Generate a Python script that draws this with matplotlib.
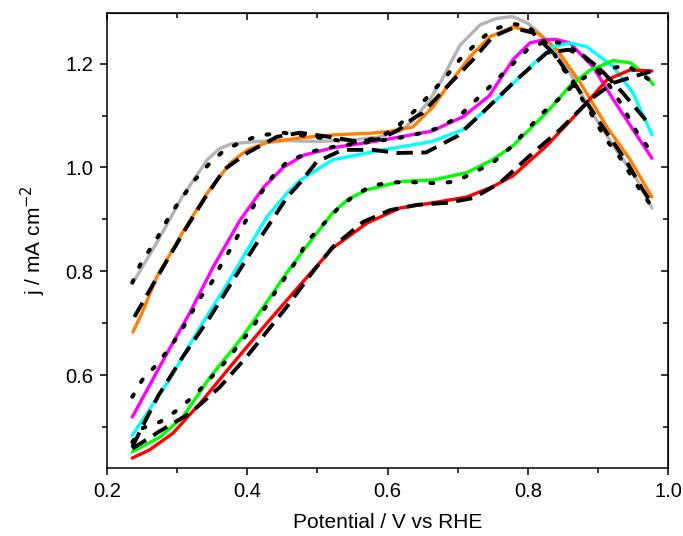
import matplotlib
matplotlib.use("Agg")
import matplotlib.pyplot as plt
from matplotlib.ticker import MultipleLocator

plt.rcParams['font.family'] = ['Liberation Sans', 'DejaVu Sans']

# measured curves (potential / V, current density / mA cm-2)
gray_x = [0.237, 0.271, 0.307, 0.343, 0.36, 0.378, 0.414, 0.45, 0.5, 0.55, 0.589, 0.618, 0.636,
          0.66, 0.675, 0.703, 0.732, 0.755, 0.778, 0.80, 0.827, 0.86, 0.889, 0.922, 0.956, 0.977]
gray_y = [0.778, 0.855, 0.943, 1.015, 1.036, 1.046, 1.05, 1.052, 1.05, 1.053, 1.059, 1.07, 1.09,
          1.13, 1.163, 1.235, 1.275, 1.287, 1.291, 1.278, 1.246, 1.183, 1.111, 1.042, 0.976, 0.922]

orange_x = [0.237, 0.25, 0.271, 0.31, 0.343, 0.376, 0.4, 0.428, 0.475, 0.525, 0.575, 0.6, 0.636,
            0.665, 0.685, 0.718, 0.746, 0.779, 0.813, 0.842, 0.875, 0.913, 0.946, 0.977]
orange_y = [0.683, 0.72, 0.789, 0.88, 0.951, 1.009, 1.034, 1.048, 1.057, 1.063, 1.066, 1.069, 1.078,
            1.117, 1.156, 1.214, 1.252, 1.271, 1.26, 1.227, 1.163, 1.078, 1.015, 0.943]

magenta_x = [0.236, 0.286, 0.318, 0.352, 0.39, 0.424, 0.452, 0.481, 0.522, 0.594, 0.663, 0.708,
             0.745, 0.779, 0.803, 0.822, 0.84, 0.86, 0.893, 0.922, 0.95, 0.977]
magenta_y = [0.519, 0.643, 0.72, 0.81, 0.899, 0.963, 1.001, 1.024, 1.038, 1.053, 1.07, 1.098,
             1.138, 1.208, 1.24, 1.246, 1.247, 1.24, 1.194, 1.131, 1.073, 1.018]

cyan_x = [0.236, 0.286, 0.333, 0.371, 0.40, 0.428, 0.457, 0.475, 0.522, 0.594, 0.663, 0.708,
          0.756, 0.803, 0.836, 0.86, 0.884, 0.922, 0.95, 0.977]
cyan_y = [0.484, 0.585, 0.693, 0.775, 0.841, 0.905, 0.951, 0.975, 1.015, 1.034, 1.05, 1.073,
          1.131, 1.194, 1.233, 1.24, 1.233, 1.194, 1.144, 1.063]

green_x = [0.236, 0.276, 0.308, 0.347, 0.39, 0.41, 0.43, 0.45, 0.47, 0.5, 0.522, 0.545, 0.571,
           0.618, 0.665, 0.713, 0.75, 0.779, 0.827, 0.86, 0.889, 0.922, 0.946, 0.964, 0.979]
green_y = [0.452, 0.481, 0.519, 0.596, 0.668, 0.706, 0.745, 0.785, 0.822, 0.875, 0.913, 0.94, 0.957,
           0.973, 0.976, 0.99, 1.015, 1.042, 1.106, 1.157, 1.188, 1.206, 1.202, 1.183, 1.16]

red_x = [0.236, 0.261, 0.294, 0.333, 0.38, 0.428, 0.475, 0.522, 0.571, 0.618, 0.665, 0.713,
         0.75, 0.779, 0.827, 0.875, 0.913, 0.946, 0.977]
red_y = [0.44, 0.456, 0.488, 0.546, 0.623, 0.70, 0.773, 0.845, 0.893, 0.922, 0.932, 0.943,
         0.963, 0.984, 1.042, 1.111, 1.169, 1.188, 1.186]

# fitted curves (black)
fit_gray_x = [0.236, 0.247, 0.276, 0.29, 0.307, 0.325, 0.347, 0.368, 0.395, 0.418, 0.451, 0.5,
              0.551, 0.589, 0.614, 0.64, 0.682, 0.703, 0.732, 0.75, 0.778, 0.80, 0.83, 0.86,
              0.89, 0.91, 0.932, 0.959, 0.975]
fit_gray_y = [0.778, 0.812, 0.874, 0.909, 0.942, 0.976, 1.009, 1.034, 1.051, 1.062, 1.067, 1.058,
              1.048, 1.058, 1.079, 1.111, 1.173, 1.208, 1.246, 1.266, 1.277, 1.272, 1.235, 1.17,
              1.105, 1.057, 1.018, 0.959, 0.928]

fit_orange_x = [0.239, 0.261, 0.286, 0.314, 0.338, 0.367, 0.40, 0.442, 0.475, 0.522, 0.558, 0.59,
                0.615, 0.636, 0.65, 0.685, 0.722, 0.75, 0.779, 0.807, 0.84, 0.87, 0.903, 0.942,
                0.964, 0.975]
fit_orange_y = [0.712, 0.764, 0.822, 0.886, 0.938, 0.996, 1.028, 1.059, 1.067, 1.058, 1.05, 1.055,
                1.072, 1.094, 1.105, 1.156, 1.208, 1.252, 1.269, 1.26, 1.215, 1.155, 1.086, 1.009,
                0.957, 0.935]

fit_magenta_x = [0.236, 0.25, 0.268, 0.287, 0.304, 0.333, 0.35, 0.364, 0.378, 0.404, 0.418, 0.438,
                 0.457, 0.49, 0.53, 0.58, 0.63, 0.67, 0.70, 0.746, 0.77, 0.80, 0.825, 0.85, 0.88,
                 0.913, 0.932, 0.956, 0.974]
fit_magenta_y = [0.558, 0.59, 0.616, 0.648, 0.681, 0.749, 0.78, 0.816, 0.847, 0.913, 0.948, 0.986,
                 1.011, 1.03, 1.042, 1.05, 1.06, 1.075, 1.096, 1.156, 1.188, 1.228, 1.243, 1.24,
                 1.215, 1.165, 1.125, 1.067, 1.034]

fit_cyan_x = [0.236, 0.25, 0.273, 0.308, 0.347, 0.38, 0.41, 0.457, 0.475, 0.499, 0.536, 0.579,
              0.614, 0.655, 0.70, 0.735, 0.779, 0.827, 0.858, 0.88, 0.903, 0.936, 0.966, 0.975]
fit_cyan_y = [0.461, 0.50, 0.56, 0.635, 0.712, 0.783, 0.847, 0.943, 0.97, 1.011, 1.034, 1.034,
              1.028, 1.029, 1.061, 1.105, 1.163, 1.221, 1.227, 1.215, 1.19, 1.143, 1.095, 1.08]

fit_green_x = [0.236, 0.251, 0.276, 0.301, 0.328, 0.371, 0.408, 0.439, 0.471, 0.485, 0.508, 0.53,
               0.554, 0.578, 0.604, 0.628, 0.651, 0.675, 0.699, 0.722, 0.75, 0.775, 0.822, 0.846,
               0.868, 0.899, 0.942, 0.984]
fit_green_y = [0.471, 0.498, 0.51, 0.533, 0.565, 0.629, 0.693, 0.758, 0.822, 0.857, 0.89, 0.922,
               0.947, 0.965, 0.971, 0.972, 0.971, 0.969, 0.974, 0.99, 1.009, 1.038, 1.106, 1.134,
               1.163, 1.188, 1.196, 1.16]

fit_red_x = [0.236, 0.273, 0.319, 0.361, 0.399, 0.456, 0.494, 0.522, 0.565, 0.604, 0.642, 0.685,
             0.722, 0.76, 0.803, 0.846, 0.889, 0.922, 0.96, 0.975]
fit_red_y = [0.458, 0.49, 0.527, 0.577, 0.635, 0.731, 0.80, 0.847, 0.895, 0.918, 0.928, 0.932,
             0.941, 0.97, 1.023, 1.073, 1.131, 1.163, 1.179, 1.185]

fig = plt.figure(figsize=(6.83, 5.36), dpi=100)
ax = fig.add_axes([0.1567, 0.127, 0.8214, 0.849])

data = [(gray_x, gray_y, '#b4b4b4'), (orange_x, orange_y, '#ff8000'),
        (magenta_x, magenta_y, '#ff00ff'), (cyan_x, cyan_y, '#00ffff'),
        (green_x, green_y, '#00ff00'), (red_x, red_y, '#ff0000')]
for x, y, c in data:
    ax.plot(x, y, color=c, lw=2.4, solid_capstyle='round', solid_joinstyle='round')

dotted = [(fit_gray_x, fit_gray_y), (fit_magenta_x, fit_magenta_y), (fit_green_x, fit_green_y)]
dashed = [(fit_orange_x, fit_orange_y), (fit_cyan_x, fit_cyan_y), (fit_red_x, fit_red_y)]
for x, y in dotted:
    ax.plot(x, y, color='black', lw=2.9, dashes=(0.7, 3.6), dash_capstyle='round')
for x, y in dashed:
    ax.plot(x, y, color='black', lw=2.8, dashes=(4.2, 2.2), dash_capstyle='butt')

ax.set_xlim(0.2, 1.0)
ax.set_ylim(0.421, 1.298)
ax.xaxis.set_major_locator(MultipleLocator(0.2))
ax.xaxis.set_minor_locator(MultipleLocator(0.1))
ax.yaxis.set_major_locator(MultipleLocator(0.2))
ax.yaxis.set_minor_locator(MultipleLocator(0.1))
ax.xaxis.set_major_formatter(plt.FormatStrFormatter('%.1f'))
ax.yaxis.set_major_formatter(plt.FormatStrFormatter('%.1f'))
ax.tick_params(which='major', direction='out', length=5, width=1.1, labelsize=14.5, pad=5)
ax.tick_params(which='minor', direction='out', length=3.5, width=1.1)
for s in ax.spines.values():
    s.set_linewidth(1.1)

# inward ticks on top and right
top = ax.secondary_xaxis('top')
top.xaxis.set_major_locator(MultipleLocator(0.2))
top.xaxis.set_minor_locator(MultipleLocator(0.1))
top.tick_params(which='major', direction='in', length=5, width=1.1, labeltop=False)
top.tick_params(which='minor', direction='in', length=3.5, width=1.1)
right = ax.secondary_yaxis('right')
right.yaxis.set_major_locator(MultipleLocator(0.2))
right.yaxis.set_minor_locator(MultipleLocator(0.1))
right.tick_params(which='major', direction='in', length=5, width=1.1, labelright=False)
right.tick_params(which='minor', direction='in', length=3.5, width=1.1)

ax.set_xlabel('Potential / V vs RHE', fontsize=15, labelpad=9)
ax.set_ylabel('j / mA cm$^{-2}$', fontsize=15, labelpad=12)

fig.savefig('out.png', dpi=100)
